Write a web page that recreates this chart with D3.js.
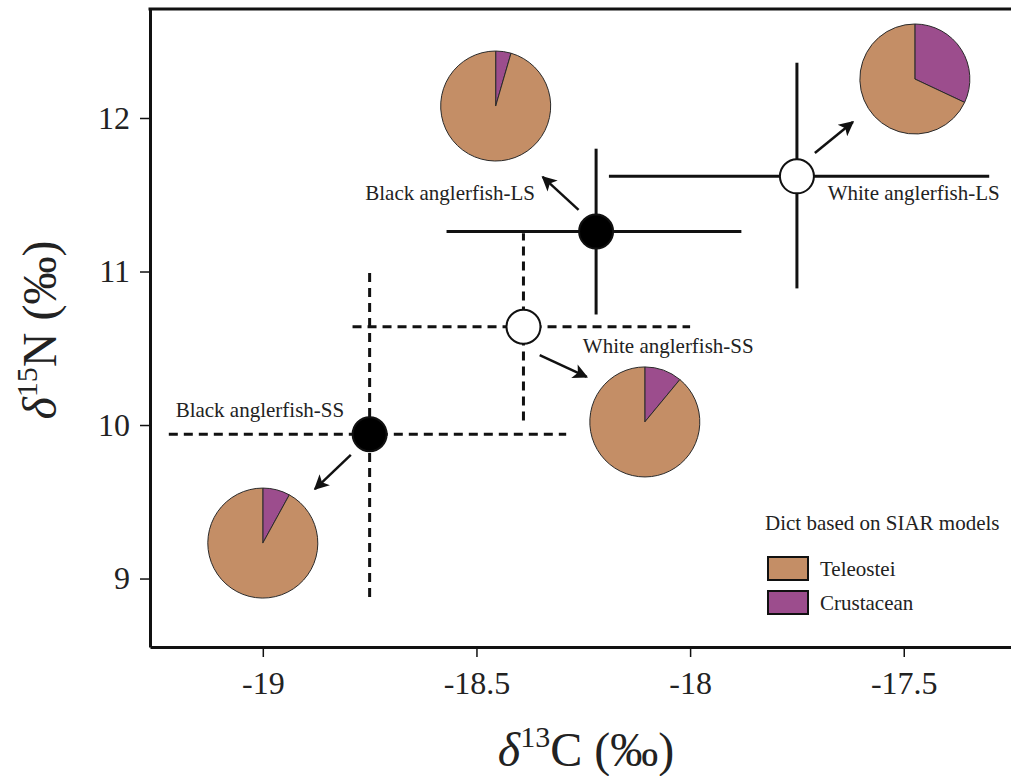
<!DOCTYPE html>
<html>
<head>
<meta charset="utf-8">
<script src="https://cdn.jsdelivr.net/npm/d3@7"></script>
<style>
  body { margin: 0; background: #fff; }
  text { font-family: "Liberation Serif", "DejaVu Serif", serif; fill: #222; }
</style>
</head>
<body>
<script>
// groups and isotope values (d13C, d15N)
var groups = ["Black anglerfish-LS", "White anglerfish-LS", "White anglerfish-SS", "Black anglerfish-SS"];
var meanC = [-18.22, -17.75, -18.39, -18.75];
var meanN = [11.26, 11.62, 10.64, 9.94];
var cLow = [-18.57, -18.19, -18.79, -19.22];
var cHigh = [-17.88, -17.30, -18.00, -18.29];
var nLow = [10.72, 10.89, 10.03, 8.88];
var nHigh = [11.80, 12.36, 11.25, 11.01];
var species = ["Black", "White", "White", "Black"];
var size = ["LS", "LS", "SS", "SS"];

// diet proportions (SIAR)
var dietNames = ["Teleostei", "Crustacean"];
var teleostei = [0.955, 0.68, 0.89, 0.92];
var crustacean = [0.045, 0.32, 0.11, 0.08];

// where the pies, arrows and labels sit, in data units
var pieC = [-18.455, -17.474, -18.106, -19.0];
var pieN = [12.078, 12.254, 10.020, 9.231];
var arrowFromC = [-18.261, -17.708, -18.352, -18.794];
var arrowFromN = [11.401, 11.772, 10.456, 9.805];
var arrowToC = [-18.345, -17.619, -18.242, -18.878];
var arrowToN = [11.616, 11.974, 10.313, 9.583];
var labelC = [-18.363, -17.678, -18.251, -19.204];
var labelN = [11.466, 11.466, 10.469, 10.052];
var labelAnchor = ["end", "start", "start", "start"];

var xTicks = [-19, -18.5, -18, -17.5];
var yTicks = [9, 10, 11, 12];

var width = 1011, height = 776;
var margin = {top: 9, right: 0, bottom: 129, left: 150};

var colors = {Teleostei: "#c48e66", Crustacean: "#9c4d8d"};

var svg = d3.select("body").append("svg")
    .attr("width", width)
    .attr("height", height);

var xScale = d3.scaleLinear().domain([-19.264, -17.249]).range([margin.left, width - margin.right]);
var yScale = d3.scaleLinear().domain([8.554, 12.71]).range([height - margin.bottom, margin.top]);

// axes
var xAxis = d3.axisBottom(xScale).tickValues(xTicks).tickSize(10).tickSizeOuter(0).tickPadding(14)
    .tickFormat(function(d) { return String(d); });
var yAxis = d3.axisLeft(yScale).tickValues(yTicks).tickSize(10).tickSizeOuter(0).tickPadding(10)
    .tickFormat(d3.format("d"));

var gx = svg.append("g")
    .attr("transform", "translate(0," + (height - margin.bottom) + ")")
    .call(xAxis);
var gy = svg.append("g")
    .attr("transform", "translate(" + margin.left + ",0)")
    .call(yAxis);

[gx, gy].forEach(function(g) {
  g.select(".domain").attr("stroke", "#111").attr("stroke-width", 3);
  g.selectAll(".tick line").attr("stroke", "#111").attr("stroke-width", 1.5);
  g.selectAll(".tick text").attr("font-size", 32).attr("fill", "#222")
    .attr("font-family", "Liberation Serif, serif");
});

// top border
svg.append("line")
    .attr("x1", margin.left - 1.5).attr("x2", width)
    .attr("y1", margin.top).attr("y2", margin.top)
    .attr("stroke", "#111").attr("stroke-width", 3);

// axis titles
var xt = svg.append("text")
    .attr("x", 586).attr("y", 766)
    .attr("text-anchor", "middle")
    .attr("font-size", 48);
xt.append("tspan").attr("font-style", "italic").text("δ");
xt.append("tspan").attr("font-size", 30).attr("dy", -19).text("13");
xt.append("tspan").attr("dy", 19).text("C (‰)");

var yt = svg.append("text")
    .attr("transform", "translate(56,330) rotate(-90)")
    .attr("text-anchor", "middle")
    .attr("font-size", 48);
yt.append("tspan").attr("font-style", "italic").text("δ");
yt.append("tspan").attr("font-size", 30).attr("dy", -19).text("15");
yt.append("tspan").attr("dy", 19).text("N (‰)");

var data = groups.map(function(g, i) {
  return {
    name: g, c: meanC[i], n: meanN[i],
    cLo: cLow[i], cHi: cHigh[i], nLo: nLow[i], nHi: nHigh[i],
    species: species[i], size: size[i],
    diet: [teleostei[i], crustacean[i]],
    pc: pieC[i], pn: pieN[i],
    a0c: arrowFromC[i], a0n: arrowFromN[i], a1c: arrowToC[i], a1n: arrowToN[i],
    lc: labelC[i], ln: labelN[i], anchor: labelAnchor[i]
  };
});

// draw SS first so LS lines sit on top
var order = [3, 2, 0, 1];

// error bars
var bars = svg.append("g");
order.forEach(function(i) {
  var d = data[i];
  var dash = d.size === "SS" ? "9,6" : null;
  bars.append("line")
      .attr("x1", xScale(d.cLo)).attr("x2", xScale(d.cHi))
      .attr("y1", yScale(d.n)).attr("y2", yScale(d.n))
      .attr("stroke", "#111").attr("stroke-width", 3)
      .attr("stroke-dasharray", dash);
  bars.append("line")
      .attr("x1", xScale(d.c)).attr("x2", xScale(d.c))
      .attr("y1", yScale(d.nLo)).attr("y2", yScale(d.nHi))
      .attr("stroke", "#111").attr("stroke-width", 3)
      .attr("stroke-dasharray", dash);
});

// mean points
svg.append("g").selectAll("circle")
    .data(order.map(function(i) { return data[i]; }))
    .enter().append("circle")
    .attr("cx", function(d) { return xScale(d.c); })
    .attr("cy", function(d) { return yScale(d.n); })
    .attr("r", 17)
    .attr("fill", function(d) { return d.species === "Black" ? "#000" : "#fff"; })
    .attr("stroke", "#111")
    .attr("stroke-width", 2);

// arrows
svg.append("defs").append("marker")
    .attr("id", "head")
    .attr("viewBox", "0 0 10 10")
    .attr("refX", 9).attr("refY", 5)
    .attr("markerWidth", 7).attr("markerHeight", 6)
    .attr("markerUnits", "strokeWidth")
    .attr("orient", "auto")
  .append("path")
    .attr("d", "M0,0L10,5L0,10L2.5,5Z")
    .attr("fill", "#111");

svg.append("g").selectAll("line")
    .data(data)
    .enter().append("line")
    .attr("x1", function(d) { return xScale(d.a0c); })
    .attr("y1", function(d) { return yScale(d.a0n); })
    .attr("x2", function(d) { return xScale(d.a1c); })
    .attr("y2", function(d) { return yScale(d.a1n); })
    .attr("stroke", "#111")
    .attr("stroke-width", 2.5)
    .attr("marker-end", "url(#head)");

// labels
svg.append("g").selectAll("text")
    .data(data)
    .enter().append("text")
    .attr("x", function(d) { return xScale(d.lc); })
    .attr("y", function(d) { return yScale(d.ln); })
    .attr("text-anchor", function(d) { return d.anchor; })
    .attr("font-size", 21)
    .text(function(d) { return d.name; });

// pies
var pie = d3.pie().sort(null).value(function(v) { return v; });
var arc = d3.arc().innerRadius(0).outerRadius(55);

data.forEach(function(d) {
  var g = svg.append("g")
      .attr("transform", "translate(" + xScale(d.pc) + "," + yScale(d.pn) + ")");
  // crustacean first so it starts at 12 o'clock going clockwise
  var slices = pie([d.diet[1], d.diet[0]]);
  g.selectAll("path")
      .data(slices)
      .enter().append("path")
      .attr("d", arc)
      .attr("fill", function(s, j) { return j === 0 ? colors.Crustacean : colors.Teleostei; })
      .attr("stroke", "#2a2a2a")
      .attr("stroke-width", 1);
});

// legend
var legend = svg.append("g");
legend.append("text")
    .attr("x", 765).attr("y", 530)
    .attr("font-size", 21)
    .text("Dict based on SIAR models");

dietNames.forEach(function(name, i) {
  legend.append("rect")
      .attr("x", 768).attr("y", 557 + i * 34)
      .attr("width", 40).attr("height", 23)
      .attr("fill", colors[name])
      .attr("stroke", "#111").attr("stroke-width", 2);
  legend.append("text")
      .attr("x", 820).attr("y", 576 + i * 34)
      .attr("font-size", 21)
      .text(name);
});
</script>
</body>
</html>
